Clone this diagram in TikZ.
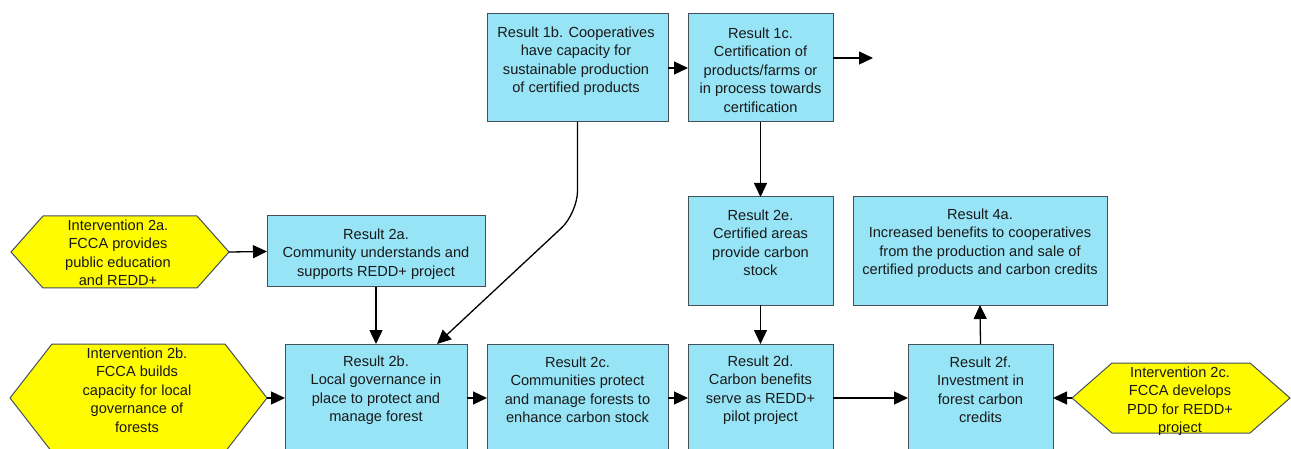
\documentclass[tikz,border=0pt]{standalone}
\usepackage{fontspec}
\setmainfont{Liberation Sans}
\usetikzlibrary{arrows.meta}

\definecolor{boxblue}{RGB}{150,228,246}
\definecolor{boxline}{RGB}{70,78,88}
\definecolor{hexyellow}{RGB}{255,252,0}
\definecolor{inkcol}{RGB}{25,25,25}

\begin{document}
\begin{tikzpicture}[x=1pt,y=-1pt,
  result/.style={draw=boxline, fill=boxblue, line width=1pt, inner sep=0pt, outer sep=0pt},
  hexarea/.style={inner sep=0pt, outer sep=0pt},
  hexshape/.style={draw=boxline, fill=hexyellow, line width=1pt, line join=miter},
  lbl/.style={align=center, text=inkcol, font=\fontsize{14.6}{18.5}\selectfont, inner sep=0pt},
  link/.style={draw=black, line width=1.3pt, -{Triangle[length=14pt,width=13pt]}}]

\useasboundingbox (0,0) rectangle (1291,449);
\clip (0,0) rectangle (1291,449);
\fill[white] (0,0) rectangle (1291,449);

% ---- result boxes ----
\node[result, minimum width=181pt, minimum height=108pt] (r1b) at (577.5,68) {};
\node[result, minimum width=145pt, minimum height=108pt] (r1c) at (760.5,68) {};
\node[result, minimum width=218pt, minimum height=71pt]  (r2a) at (376,251.5) {};
\node[result, minimum width=145pt, minimum height=108pt] (r2e) at (760.5,251) {};
\node[result, minimum width=254pt, minimum height=108pt] (r4a) at (980,251) {};
\node[result, minimum width=182pt, minimum height=108pt] (r2b) at (376,398) {};
\node[result, minimum width=181pt, minimum height=108pt] (r2c) at (577.5,398) {};
\node[result, minimum width=145pt, minimum height=108pt] (r2d) at (760.5,398) {};
\node[result, minimum width=145pt, minimum height=108pt] (r2f) at (980.5,398) {};

% ---- intervention hexagons ----
\node[hexarea, minimum width=218pt, minimum height=72pt]  (h2a) at (120,252) {};
\node[hexarea, minimum width=257pt, minimum height=108pt] (h2b) at (138.5,398) {};
\node[hexarea, minimum width=218pt, minimum height=70pt]  (h2c) at (1181,398) {};

\draw[hexshape] (h2a.west) -- ([xshift=32pt]h2a.north west) -- ([xshift=-32pt]h2a.north east)
  -- (h2a.east) -- ([xshift=-32pt]h2a.south east) -- ([xshift=32pt]h2a.south west) -- cycle;
\draw[hexshape] (h2b.west) -- ([xshift=42pt]h2b.north west) -- ([xshift=-42pt]h2b.north east)
  -- (h2b.east) -- ([xshift=-42pt]h2b.south east) -- ([xshift=42pt]h2b.south west) -- cycle;
\draw[hexshape] (h2c.west) -- ([xshift=40pt]h2c.north west) -- ([xshift=-40pt]h2c.north east)
  -- (h2c.east) -- ([xshift=-40pt]h2c.south east) -- ([xshift=40pt]h2c.south west) -- cycle;

% ---- texts ----
\node[lbl] (t1b) at (576,61) {Result 1b. Cooperatives\\have capacity for\\sustainable production\\of certified products};
\node[lbl] (t1c) at (760.5,70) {Result 1c.\\Certification of\\products/farms or\\in process towards\\certification};
\node[lbl] (t2a) at (376,254) {Result 2a.\\Community understands and\\supports REDD+ project};
\node[lbl] (t2e) at (760.5,243) {Result 2e.\\Certified areas\\provide carbon\\stock};
\node[lbl] (t4a) at (980,243) {Result 4a.\\Increased benefits to cooperatives\\from the production and sale of\\certified products and carbon credits};
\node[lbl] (t2b) at (376,390) {Result 2b.\\Local governance in\\place to protect and\\manage forest};
\node[lbl] (t2c) at (577.5,390) {Result 2c.\\Communities protect\\and manage forests to\\enhance carbon stock};
\node[lbl] (t2d) at (760.5,390) {Result 2d.\\Carbon benefits\\serve as REDD+\\pilot project};
\node[lbl] (t2f) at (980.5,390) {Result 2f.\\Investment in\\forest carbon\\credits};
\node[lbl] (th2a) at (118,253) {Intervention 2a.\\FCCA provides\\public education\\and REDD+};
\node[lbl] (th2b) at (137,390) {Intervention 2b.\\FCCA builds\\capacity for local\\governance of\\forests};
\node[lbl] (th2c) at (1180,401) {Intervention 2c.\\FCCA develops\\PDD for REDD+\\project};

% ---- connectors ----
\coordinate (o1c) at (873,58);
\coordinate (bend) at (577.5,213);
\draw[link] (r1b.east) -- (r1c.west);
\draw[link] (r1c.east |- o1c) -- (o1c);
\draw[link, rounded corners=22pt] (r1b.south) -- (bend) -- ([xshift=61pt]r2b.north);
\draw[link] (r1c.south) -- (r2e.north);
\draw[link] (h2a.east) -- (r2a.west);
\draw[link] (r2a.south) -- (r2b.north);
\draw[link] (r2e.south) -- (r2d.north);
\draw[link] (r2f.north) -- (r4a.south);
\draw[link] (h2b.east) -- (r2b.west);
\draw[link] (r2b.east) -- (r2c.west);
\draw[link] (r2c.east) -- (r2d.west);
\draw[link] (r2d.east) -- (r2f.west);
\draw[link] (h2c.west) -- (r2f.east);
\end{tikzpicture}
\end{document}
